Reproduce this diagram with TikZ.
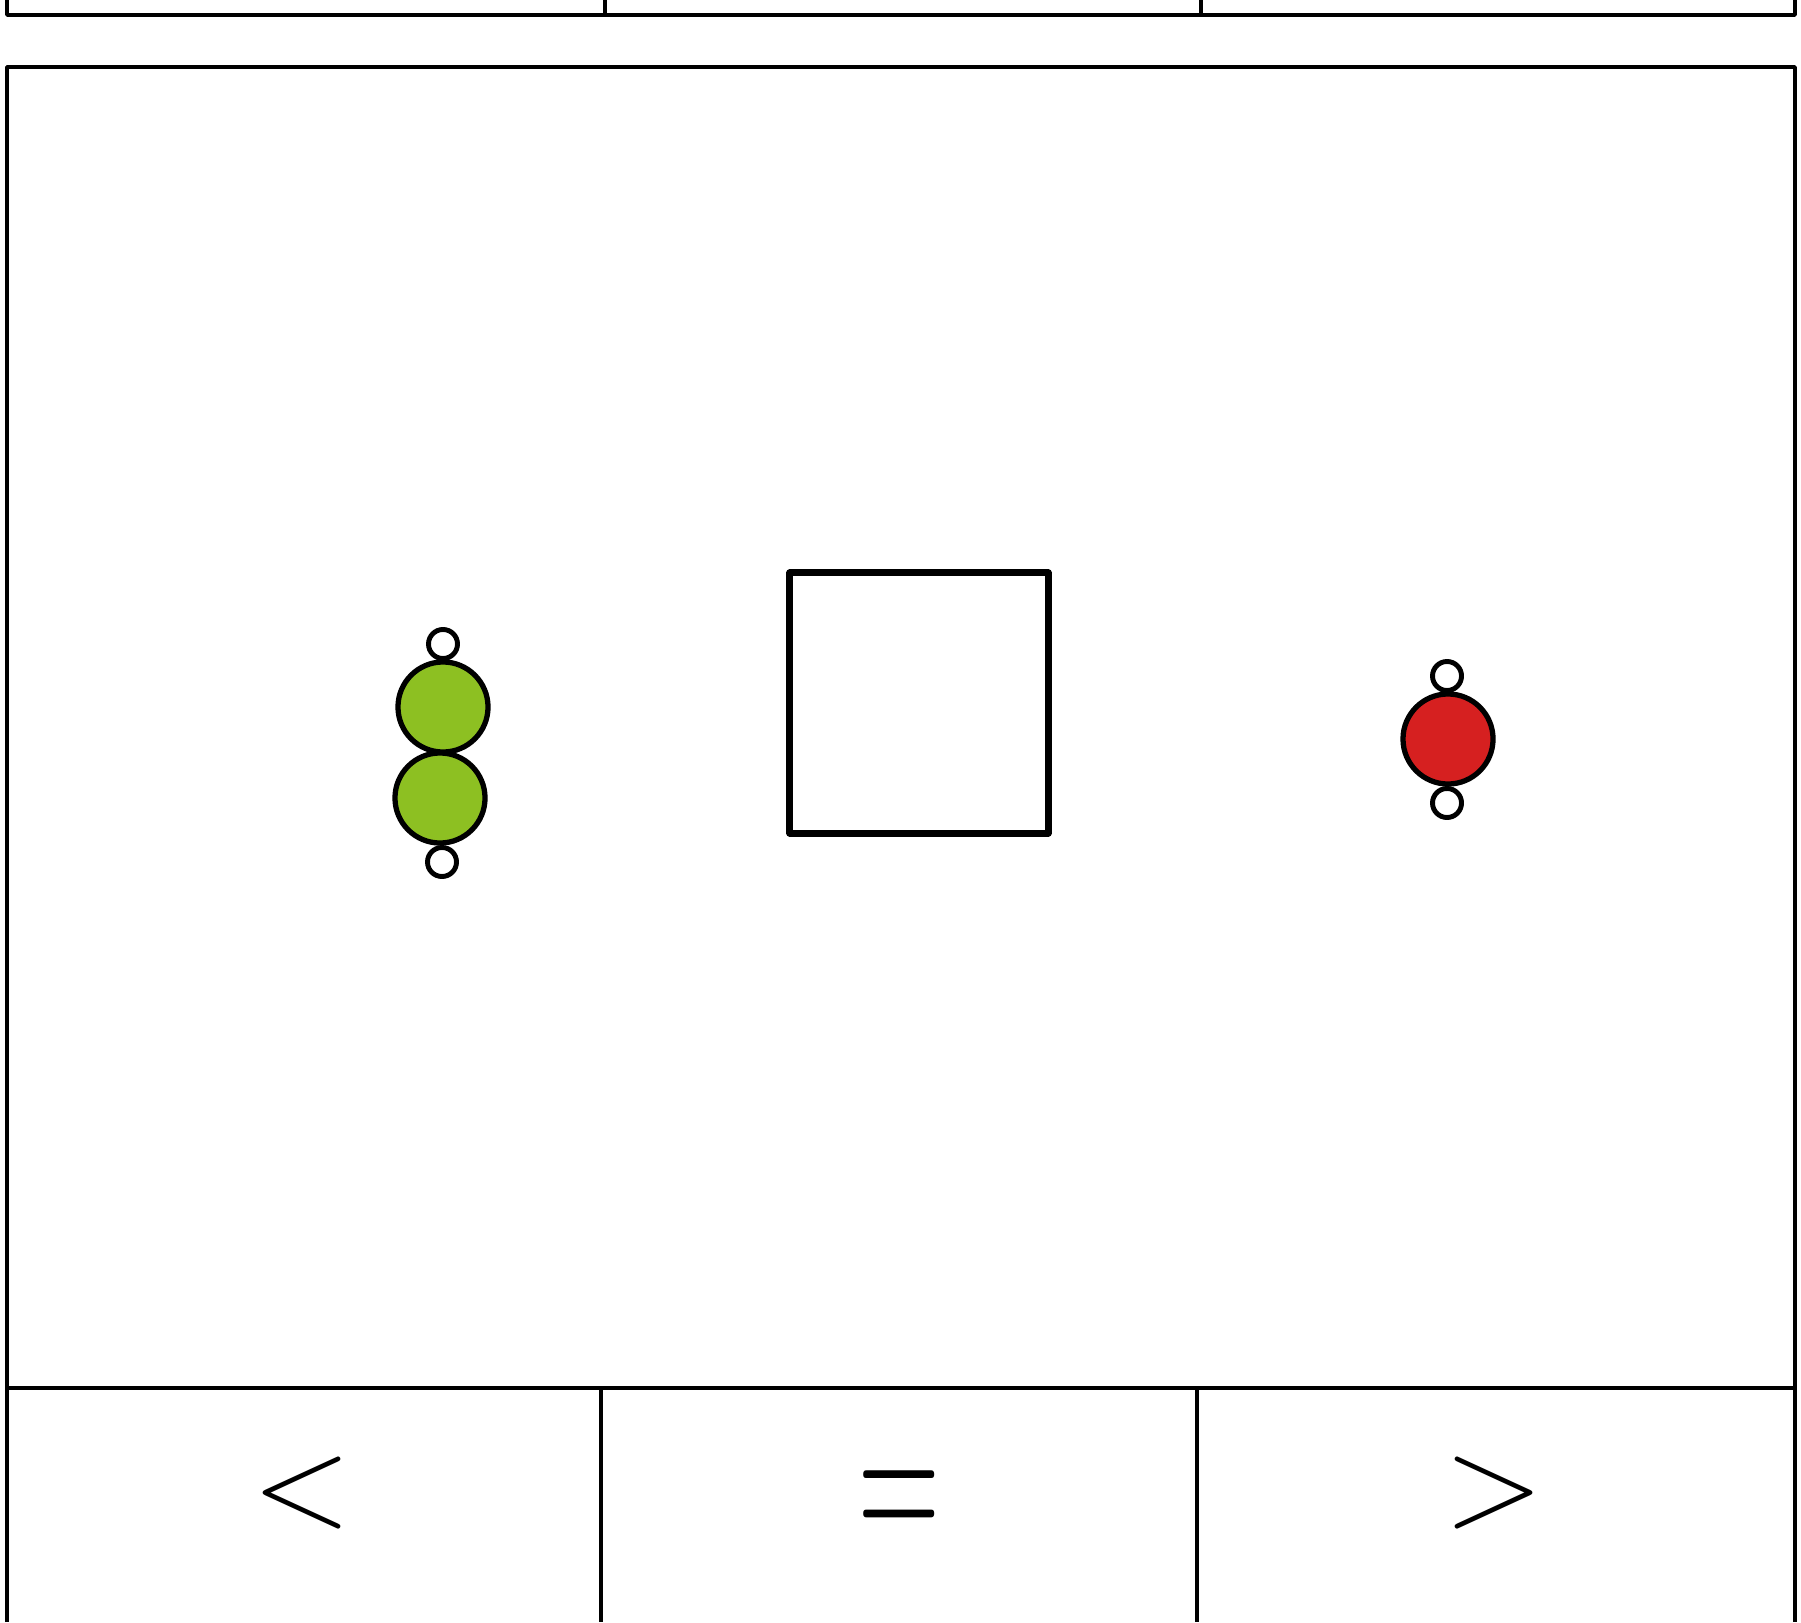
\documentclass[tikz,border=0pt]{standalone}
\usepackage{fontspec}
\usetikzlibrary{positioning}
\definecolor{beadgreen}{RGB}{141,192,34}
\definecolor{beadred}{RGB}{214,32,32}

\begin{document}
\begin{tikzpicture}[x=0.01cm, y=-0.01cm, line join=round,
    bead/.style={circle, draw=black, line width=1.5pt, minimum size=0.9cm, inner sep=0pt},
    ring/.style={circle, draw=black, fill=white, line width=1.4pt, minimum size=0.29cm, inner sep=0pt},
    sign/.style={font=\fontsize{37}{40}\selectfont, inner sep=0pt}]
  \useasboundingbox (0,0) rectangle (1801,1622);
  % top strip, cut off by the page edge
  \draw[line width=1pt] (7,0) -- (7,15) -- (1795,15) -- (1795,0);
  \foreach \x in {605,1201}{
    \draw[line width=1pt] (\x,0) -- (\x,15);
  }
  % main panel and answer row
  \draw[line width=1pt] (7,1622) -- (7,67) -- (1795,67) -- (1795,1622);
  \draw[line width=1pt] (7,1388) -- (1795,1388);
  \foreach \x in {601,1197}{
    \draw[line width=1pt] (\x,1388) -- (\x,1622);
  }
  % two green beads (left)
  \node[ring] (gtop) at (443,644) {};
  \node[bead, fill=beadgreen] (gup) at (443,707) {};
  \node[bead, fill=beadgreen] (glow) at (440,798) {};
  \node[ring] (gbot) at (442,862) {};
  % empty box (middle)
  \node[draw, line width=2pt, minimum width=2.58cm, minimum height=2.6cm, inner sep=0pt] (gap) at (919,703) {};
  % one red bead (right)
  \node[ring] (rtop) at (1447,676) {};
  \node[bead, fill=beadred] (rmid) at (1448,739) {};
  \node[ring] (rbot) at (1447,803) {};
  % comparison signs
  \node[sign] (lt) at (302,1493) {<};
  \node[sign] (eq) at (899,1510) {\scalebox{0.87}[1.7]{=}};
  \node[sign] (gt) at (1494,1493) {>};
\end{tikzpicture}
\end{document}
